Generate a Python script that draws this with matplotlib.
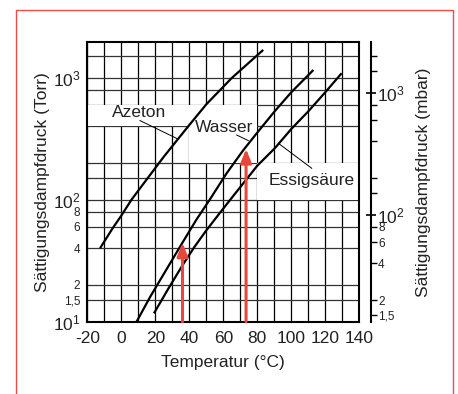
import numpy as np
import matplotlib.pyplot as plt
from matplotlib.patches import Rectangle
from matplotlib.ticker import FixedLocator, FuncFormatter

plt.rcParams['font.family'] = ['Liberation Sans', 'DejaVu Sans']

# curves: temperature (degC), pressure (Torr)
azetonT = [-12.5, -5, 0, 6, 15, 25, 39.4, 50, 65, 83.5]
azetonP = [40, 58.6, 74, 100, 147, 225, 400, 605, 995, 1690]
wasserT = [9, 17, 26, 36, 44, 52, 62, 71.8, 80, 90, 100, 113]
wasserP = [10, 16, 26, 44.5, 68, 100, 165, 255, 355, 526, 760, 1157]
essigT = [19.2, 28, 36, 43, 50, 58, 66, 80, 90.4, 100, 110, 120, 129.6]
essigP = [11.7, 19, 29, 41, 56, 78, 108, 190, 265, 380, 530, 760, 1087]

# red arrows (temperature, pressure at tip)
arrowT = [36, 73.4]
arrowP = [44.5, 261]

xTicks = [-20, 0, 20, 40, 60, 80, 100, 120, 140]
xGrid = np.arange(-20, 141, 10)
yGrid = [15, 20, 40, 60, 80, 100, 150, 200, 400, 600, 800, 1000, 1500]
yMajor = [10, 100, 1000]
yMinorLabels = {15: "1,5", 20: "2", 40: "4", 60: "6", 80: "8"}
mbarMajor = [100, 1000]
mbarMinor = [15, 20, 40, 60, 80, 150, 200, 400, 600, 800, 1500, 2000]
mbarMinorLabels = {15: "1,5", 20: "2", 40: "4", 60: "6", 80: "8"}
torr2mbar = 1.33322

fig = plt.figure(figsize=(4.58, 3.94), dpi=100)
ax = fig.add_axes([0.1906, 0.1835, 0.5939, 0.7091])
ax.set_yscale("log")
ax.set_xlim(-20, 140)
ax.set_ylim(10, 1950)

# grid
for x in xGrid:
    ax.axvline(x, color="black", lw=0.9, zorder=1)
for y in yGrid:
    ax.axhline(y, color="#333333", lw=0.9, zorder=1)

# white label boxes covering the grid
boxes = [(-20, 400, 60, 200), (40, 200, 40, 400), (80, 100, 60, 100)]
for bx, by, bw, bh in boxes:
    ax.add_patch(Rectangle((bx, by), bw, bh, facecolor="white",
                           edgecolor="none", zorder=1.5))

# curves
for T, P in [(azetonT, azetonP), (wasserT, wasserP), (essigT, essigP)]:
    ax.plot(T, P, color="black", lw=1.6, zorder=3, solid_capstyle="butt",
            solid_joinstyle="round")

# labels with leader lines
ax.text(10.2, 514, "Azeton", fontsize=12.5, ha="center", va="center",
        color="#222222", zorder=4)
ax.plot([11, 32.6], [445, 318], color="black", lw=0.7, zorder=3)
ax.text(60.4, 394, "Wasser", fontsize=12.5, ha="center", va="center",
        color="#222222", zorder=4)
ax.plot([67.9, 74.7], [339, 305], color="black", lw=0.7, zorder=3)
ax.text(111.8, 145, "Essigsäure", fontsize=12.5, ha="center", va="center",
        color="#222222", zorder=4)
ax.plot([92.4, 112], [290, 181], color="black", lw=0.7, zorder=3)

# red arrows
for t, p in zip(arrowT, arrowP):
    ax.annotate("", xy=(t, p), xytext=(t, 10),
                arrowprops=dict(arrowstyle="-|>,head_length=0.8,head_width=0.32",
                                color="#e8473b", lw=2.2, mutation_scale=10,
                                shrinkA=0, shrinkB=0),
                zorder=5)

# left axis ticks
ax.set_xticks(xTicks)
ax.set_xticklabels([str(v) for v in xTicks], fontsize=12.5, color="#222222")
ax.tick_params(axis="x", length=0, pad=7)
ax.yaxis.set_major_locator(FixedLocator(yMajor))
ax.yaxis.set_minor_locator(FixedLocator(list(yMinorLabels.keys())))
ax.set_yticklabels([r"$\mathregular{10^1}$", r"$\mathregular{10^2}$",
                    r"$\mathregular{10^3}$"], fontsize=12.5, color="#222222")
ax.set_yticklabels(list(yMinorLabels.values()), minor=True, fontsize=8.5,
                   color="#222222")
ax.tick_params(axis="y", which="both", length=0, pad=5)
for s in ax.spines.values():
    s.set_linewidth(1.5)
ax.set_xlabel("Temperatur (°C)", fontsize=12.5, color="#222222", labelpad=6)
ax.set_ylabel("Sättigungsdampfdruck (Torr)", fontsize=12.5, color="#222222",
              labelpad=2)

# right axis in mbar
ax2 = ax.twinx()
ax2.set_yscale("log")
ax2.set_ylim(10 * torr2mbar, 1950 * torr2mbar)
for k in ["top", "bottom", "left"]:
    ax2.spines[k].set_visible(False)
ax2.spines["right"].set_position(("outward", 8.5))
ax2.spines["right"].set_linewidth(1.5)
ax2.yaxis.set_major_locator(FixedLocator(mbarMajor))
ax2.yaxis.set_minor_locator(FixedLocator(mbarMinor))
ax2.set_yticklabels([r"$\mathregular{10^2}$", r"$\mathregular{10^3}$"],
                    fontsize=12.5, color="#222222")
ax2.yaxis.set_minor_formatter(
    FuncFormatter(lambda v, pos: mbarMinorLabels.get(int(round(v)), "")))
ax2.tick_params(axis="y", which="major", direction="inout", length=7,
                width=1.2, pad=1)
ax2.tick_params(axis="y", which="minor", direction="out", length=4,
                width=1.0, pad=1, labelsize=8.5, labelcolor="#222222")
ax2.set_ylabel("Sättigungsdampfdruck (mbar)", fontsize=12.5, color="#222222",
               labelpad=8)

# red frame
fig.patches.append(Rectangle((16 / 458, -0.05), 437 / 458, 1.05 - 10 / 394,
                             transform=fig.transFigure, fill=False,
                             edgecolor="#ef4a4a", lw=1.0))

fig.savefig("out.png", dpi=100)
